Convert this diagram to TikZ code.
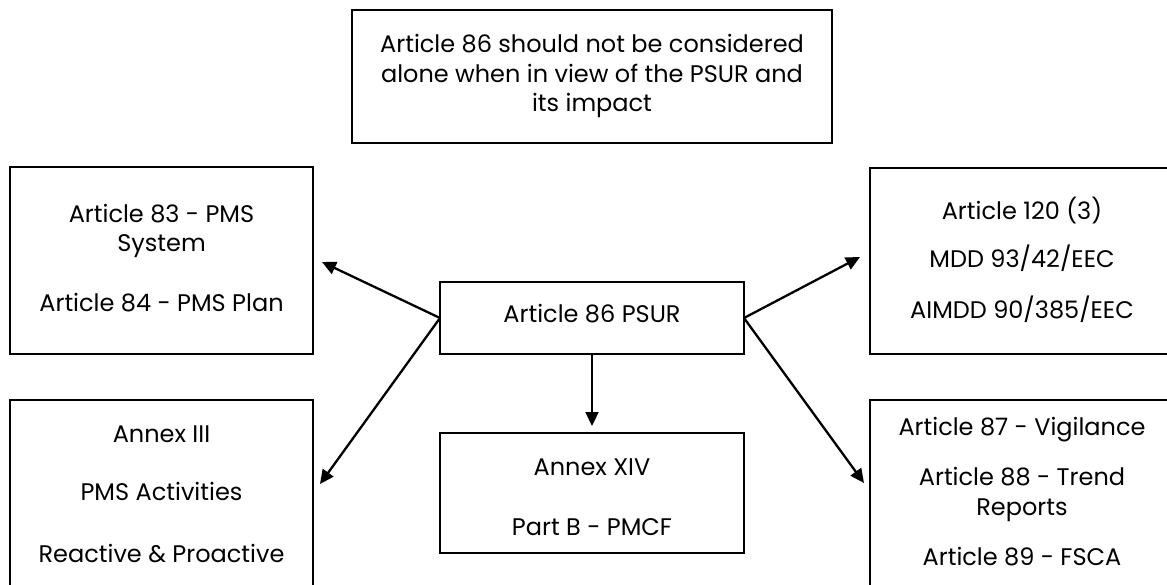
\documentclass[tikz,border=0pt]{standalone}
\usepackage{fontspec}
\setmainfont{Poppins}
\usetikzlibrary{arrows.meta}
\begin{document}
\begin{tikzpicture}[x=1pt,y=-1pt,
  box/.style={draw, line width=2.6pt, inner sep=0pt, outer sep=0pt},
  txt/.style={anchor=base, font=\fontsize{24}{28}\selectfont, inner sep=0pt},
  conn/.style={line width=2.3pt, -{Triangle[length=14pt,width=13pt]}}]
\useasboundingbox (0,0) rectangle (1167,585);
\clip (0,0) rectangle (1167,585);
% boxes
\node[box, minimum width=480pt, minimum height=133pt] (topbox) at (592,76.5) {};
\node[box, minimum width=303pt, minimum height=187pt] (tl) at (161.5,260.5) {};
\node[box, minimum width=303pt, minimum height=200pt] (bl) at (161.5,500) {};
\node[box, minimum width=304pt, minimum height=72pt] (psur) at (592,318) {};
\node[box, minimum width=304pt, minimum height=120pt] (bc) at (592,493) {};
\node[box, minimum width=304pt, minimum height=186pt] (tr) at (1022,261) {};
\node[box, minimum width=304pt, minimum height=200pt] (br) at (1022,500) {};
% texts
\node[txt] (t1) at (592,53) {Article 86 should not be considered};
\node[txt] (t2) at (592,82.5) {alone when in view of the PSUR and};
\node[txt] (t3) at (592,112) {its impact};
\node[txt] (tl1) at (161.5,223) {Article 83 - PMS};
\node[txt] (tl2) at (161.5,252) {System};
\node[txt] (tl3) at (161.5,312) {Article 84 - PMS Plan};
\node[txt] (bl1) at (161.5,442) {Annex III};
\node[txt] (bl2) at (161.5,500) {PMS Activities};
\node[txt] (bl3) at (161.5,562) {Reactive \& Proactive};
\node[txt] (p1) at (592,323) {Article 86 PSUR};
\node[txt] (bc1) at (592,475) {Annex XIV};
\node[txt] (bc2) at (592,535) {Part B - PMCF};
\node[txt] (tr1) at (1022,220) {Article 120 (3)};
\node[txt] (tr2) at (1022,268) {MDD 93/42/EEC};
\node[txt] (tr3) at (1022,318) {AIMDD 90/385/EEC};
\node[txt] (br1) at (1022,435) {Article 87 - Vigilance};
\node[txt] (br2) at (1022,485) {Article 88 - Trend};
\node[txt] (br3) at (1022,515) {Reports};
\node[txt] (br4) at (1022,565) {Article 89 - FSCA};
% arrow ends
\coordinate (etl) at (322,262);
\coordinate (ebl) at (320,484);
\coordinate (etr) at (860,257);
\coordinate (ebr) at (864,483);
\coordinate (ebc) at (592,426);
\draw[conn] (psur.west) -- (etl);
\draw[conn] (psur.west) -- (ebl);
\draw[conn] (psur.east) -- (etr);
\draw[conn] (psur.east) -- (ebr);
\draw[conn] (psur.south) -- (ebc);
\end{tikzpicture}
\end{document}
